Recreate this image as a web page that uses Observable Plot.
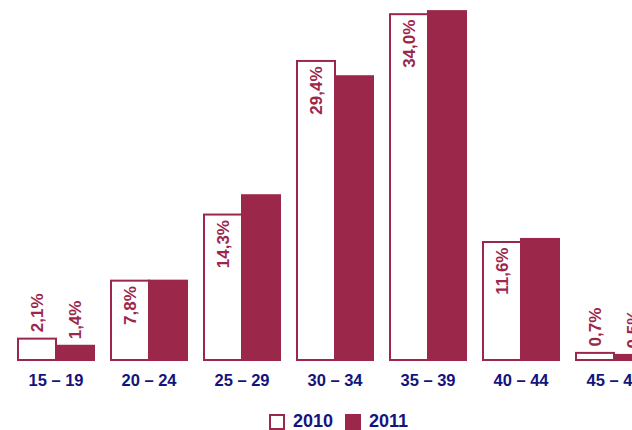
<!DOCTYPE html>
<html>
<head>
<meta charset="utf-8">
<script src="https://cdn.jsdelivr.net/npm/d3@7"></script>
<script src="https://cdn.jsdelivr.net/npm/@observablehq/plot@0.6"></script>
<style>
  html, body { margin: 0; padding: 0; background: #fff; }
  #wrap { position: relative; width: 632px; height: 430px; overflow: hidden; }
  #chart svg { max-width: none !important; }
  #legend { position: absolute; left: 269px; top: 411px; display: flex; align-items: center;
            font: bold 18px "Liberation Sans", Arial, sans-serif; color: #14147d; }
  #legend .sw { width: 12px; height: 12px; border: 2px solid #9b284b; margin-right: 8px; }
  #legend .item { display: flex; align-items: center; margin-right: 12px; }
</style>
</head>
<body>
<div id="wrap">
  <div id="chart"></div>
  <div id="legend"></div>
</div>
<script>
// Age bands and shares (%) per year
const groups = ["15 – 19", "20 – 24", "25 – 29", "30 – 34", "35 – 39", "40 – 44", "45 – 49"];
const years = ["2010", "2011"];
const values2010 = [2.1, 7.8, 14.3, 29.4, 34.0, 11.6, 0.7];
const values2011 = [1.4, 7.8, 16.2, 27.9, 34.3, 11.9, 0.5];

const maroon = "#9b284b";
const navy = "#14147d";

const data = groups.flatMap((g, i) => [
  {group: g, year: "2010", value: values2010[i]},
  {group: g, year: "2011", value: values2011[i]}
]);

const fmt = v => v.toFixed(1).replace(".", ",") + "%";
// Labels fit inside a bar once it is tall enough
const inside = d => d.value > 5.5;

const chart = Plot.plot({
  width: 668,
  height: 392,
  marginLeft: 1,
  marginRight: 0,
  marginTop: 4,
  marginBottom: 32,
  style: {fontFamily: "'Liberation Sans', Arial, sans-serif", fontWeight: "bold", fontSize: "16.5px", color: navy, background: "transparent", maxWidth: "none"},
  facet: {data, x: "group"},
  fx: {domain: groups, paddingInner: 0.172, paddingOuter: 0.172, axis: "bottom", tickSize: 0, tickPadding: 14, label: null},
  x: {domain: years, padding: 0, axis: null},
  y: {domain: [0, 35], axis: null},
  marks: [
    Plot.barY(data, {
      x: "year", y: "value",
      fill: d => d.year === "2010" ? "white" : maroon,
      stroke: maroon, strokeWidth: 2
    }),
    Plot.text(data, {
      filter: d => d.year === "2010" && inside(d),
      x: "year", y: "value", text: d => fmt(d.value),
      rotate: -90, textAnchor: "end", dy: 5,
      fill: maroon, fontSize: 17, fontWeight: "bold"
    }),
    Plot.text(data, {
      filter: d => !inside(d),
      x: "year", y: "value", text: d => fmt(d.value),
      rotate: -90, textAnchor: "start", dy: -7,
      fill: maroon, fontSize: 17, fontWeight: "bold"
    })
  ]
});
document.getElementById("chart").appendChild(chart);

// Legend
const legend = document.getElementById("legend");
years.forEach(y => {
  const item = document.createElement("div");
  item.className = "item";
  const sw = document.createElement("div");
  sw.className = "sw";
  sw.style.background = y === "2010" ? "white" : maroon;
  const label = document.createElement("span");
  label.textContent = y;
  item.appendChild(sw);
  item.appendChild(label);
  legend.appendChild(item);
});
</script>
</body>
</html>
